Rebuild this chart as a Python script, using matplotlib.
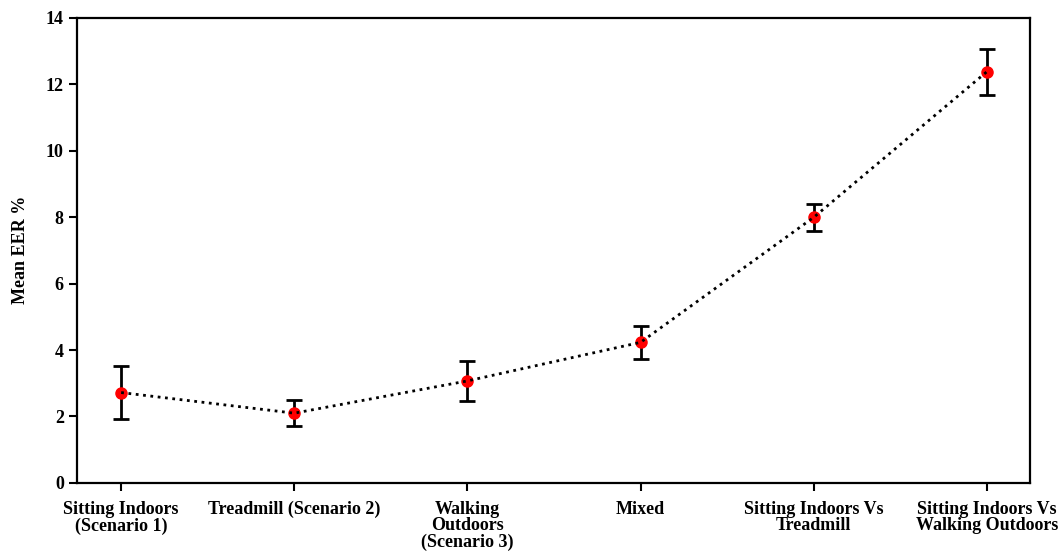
import numpy as np
import matplotlib.pyplot as plt

plt.rcParams['font.family'] = ['Liberation Serif', 'DejaVu Serif']
plt.rcParams['font.weight'] = 'bold'

scenarios = ['Sitting Indoors\n(Scenario 1)', 'Treadmill (Scenario 2)',
             'Walking\nOutdoors\n(Scenario 3)', 'Mixed',
             'Sitting Indoors Vs\nTreadmill', 'Sitting Indoors Vs\nWalking Outdoors']
mean_eer = [2.72, 2.10, 3.07, 4.23, 7.99, 12.37]
eer_err = [0.80, 0.40, 0.60, 0.50, 0.40, 0.69]

x = np.arange(len(scenarios))

fig, ax = plt.subplots(figsize=(10.62, 5.56), dpi=100)
fig.subplots_adjust(left=0.0725, right=0.970, top=0.9685, bottom=0.1313)

# error bars + red points, dotted line drawn on top
ax.errorbar(x, mean_eer, yerr=eer_err, fmt='none', ecolor='black',
            elinewidth=2, capsize=6, capthick=2, zorder=2)
ax.plot(x, mean_eer, 'o', color='red', markersize=8, zorder=3)
ax.plot(x, mean_eer, ':', color='black', linewidth=2, zorder=4)

ax.set_xlim(-0.255, 5.25)
ax.set_ylim(0, 14)
ax.set_yticks(range(0, 15, 2))
ax.set_xticks(x)
ax.set_xticklabels(scenarios, fontsize=13, fontweight='bold', linespacing=0.95)
ax.tick_params(axis='both', direction='out', length=6, width=1.5, labelsize=13)
ax.tick_params(axis='x', pad=7)
for lbl in ax.get_yticklabels():
    lbl.set_fontweight('bold')

ax.set_ylabel('Mean EER %', fontsize=13, fontweight='bold', labelpad=12)

for s in ax.spines.values():
    s.set_linewidth(1.6)

plt.savefig('out.png', dpi=100)
